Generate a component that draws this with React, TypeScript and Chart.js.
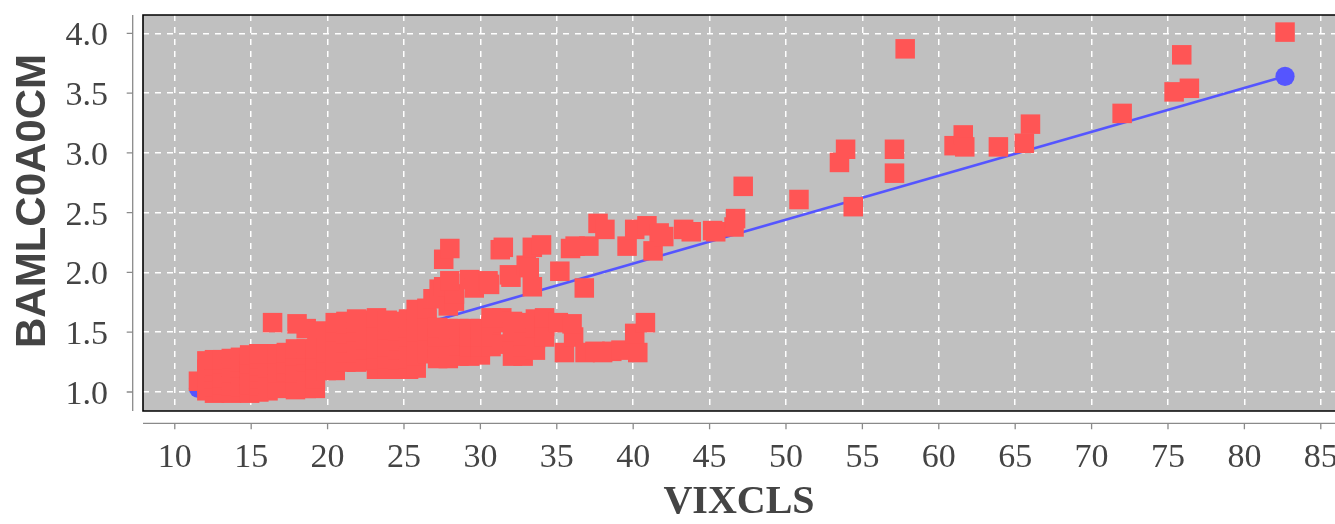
import React, { useEffect, useRef } from "react";
import { Chart, registerables } from "chart.js";

Chart.register(...registerables);

// VIXCLS (x) vs BAMLC0A0CM (y) observations
const scatterPoints: [number, number][] = [
  [11.55, 1.09],
  [12.1, 1.01], [12.1, 1.07], [12.1, 1.13], [12.1, 1.19], [12.1, 1.26],
  [12.6, 0.99], [12.6, 1.04], [12.6, 1.11], [12.6, 1.17], [12.6, 1.22], [12.6, 1.27],
  [13.1, 1.0], [13.1, 1.06], [13.1, 1.12], [13.1, 1.18], [13.1, 1.24], [13.1, 1.27],
  [13.7, 0.99], [13.7, 1.05], [13.7, 1.1], [13.7, 1.16], [13.7, 1.21], [13.7, 1.28],
  [14.3, 1.0], [14.3, 1.04], [14.3, 1.09], [14.3, 1.15], [14.3, 1.2], [14.3, 1.25], [14.3, 1.29],
  [14.9, 0.99], [14.9, 1.06], [14.9, 1.13], [14.9, 1.18], [14.9, 1.24], [14.9, 1.31],
  [15.5, 1.0], [15.5, 1.05], [15.5, 1.11], [15.5, 1.17], [15.5, 1.22], [15.5, 1.28], [15.5, 1.32],
  [16.1, 1.01], [16.1, 1.07], [16.1, 1.14], [16.1, 1.2], [16.1, 1.26], [16.1, 1.32],
  [16.7, 1.03], [16.7, 1.09], [16.7, 1.16], [16.7, 1.23], [16.7, 1.29], [16.7, 1.32],
  [16.4, 1.58],
  [17.3, 1.17], [17.3, 1.24], [17.3, 1.33],
  [17.9, 1.02], [17.9, 1.09], [17.9, 1.16], [17.9, 1.23], [17.9, 1.3], [17.9, 1.36],
  [18.6, 1.03], [18.6, 1.1], [18.6, 1.18], [18.6, 1.25], [18.6, 1.31], [18.6, 1.36],
  [18.0, 1.57], [18.6, 1.53], [19.3, 1.51],
  [19.2, 1.03], [19.2, 1.11], [19.2, 1.19], [19.2, 1.27], [19.2, 1.36],
  [19.9, 1.18], [19.9, 1.26], [19.9, 1.33], [19.9, 1.37],
  [20.5, 1.18], [20.5, 1.26], [20.5, 1.34], [20.5, 1.42], [20.5, 1.5], [20.5, 1.58],
  [21.2, 1.25], [21.2, 1.33], [21.2, 1.41], [21.2, 1.49], [21.2, 1.57], [21.2, 1.59],
  [21.9, 1.25], [21.9, 1.33], [21.9, 1.42], [21.9, 1.5], [21.9, 1.58], [21.9, 1.61],
  [22.5, 1.26], [22.5, 1.35], [22.5, 1.44], [22.5, 1.53], [22.5, 1.6],
  [23.2, 1.19], [23.2, 1.27], [23.2, 1.36], [23.2, 1.45], [23.2, 1.55], [23.2, 1.62],
  [23.9, 1.19], [23.9, 1.28], [23.9, 1.38], [23.9, 1.45], [23.9, 1.52], [23.9, 1.6],
  [24.6, 1.19], [24.6, 1.27], [24.6, 1.35], [24.6, 1.43], [24.6, 1.51], [24.6, 1.59],
  [25.3, 1.19], [25.3, 1.28], [25.3, 1.37], [25.3, 1.46], [25.3, 1.54], [25.3, 1.61],
  [25.8, 1.2], [25.8, 1.3], [25.8, 1.4], [25.8, 1.5], [25.8, 1.6], [25.8, 1.69],
  [26.5, 1.32], [26.5, 1.42], [26.5, 1.51], [26.5, 1.61], [26.5, 1.7],
  [27.2, 1.28], [27.2, 1.37], [27.2, 1.46], [27.2, 1.54],
  [27.9, 1.28], [27.9, 1.37], [27.9, 1.46], [27.9, 1.53],
  [28.6, 1.3], [28.6, 1.39], [28.6, 1.47], [28.6, 1.53],
  [29.3, 1.3], [29.3, 1.38], [29.3, 1.46], [29.3, 1.53],
  [30.0, 1.31], [30.0, 1.38], [30.0, 1.46], [30.0, 1.53],
  [30.7, 1.38], [30.7, 1.46], [30.7, 1.55], [30.7, 1.62],
  [31.4, 1.4], [31.4, 1.58], [31.4, 1.62],
  [32.1, 1.3], [32.1, 1.4], [32.1, 1.5], [32.1, 1.59],
  [32.8, 1.3], [32.8, 1.38], [32.8, 1.47], [32.8, 1.58],
  [33.6, 1.35], [33.6, 1.45], [33.6, 1.54], [33.6, 1.61],
  [34.2, 1.46], [34.2, 1.55], [34.2, 1.62],
  [35.1, 1.58], [35.5, 1.33], [36.1, 1.46], [36.0, 1.57],
  [36.85, 1.33], [37.5, 1.34], [38.0, 1.33], [38.6, 1.34], [39.2, 1.35], [40.3, 1.33],
  [40.1, 1.49], [40.8, 1.58],
  [26.9, 1.78], [27.3, 1.86], [27.9, 1.72], [28.3, 1.76], [27.6, 1.88], [28.3, 1.82],
  [27.6, 2.11], [28.0, 2.2],
  [28.0, 1.93], [29.3, 1.94], [29.6, 1.87], [30.5, 1.93], [30.6, 1.9],
  [31.3, 2.19], [31.5, 2.21], [31.9, 1.98], [32.0, 1.96], [33.0, 2.06], [33.2, 2.04], [33.4, 1.88],
  [33.4, 2.21], [34.0, 2.23], [35.2, 2.01], [35.9, 2.2], [36.2, 2.22], [37.1, 2.22], [36.8, 1.87],
  [37.7, 2.41], [38.15, 2.36],
  [39.6, 2.22], [40.1, 2.36], [40.9, 2.39], [41.7, 2.33], [41.3, 2.18], [42.0, 2.3],
  [43.3, 2.36], [43.8, 2.34], [45.2, 2.35], [45.4, 2.34], [46.6, 2.38], [46.7, 2.45], [47.2, 2.72],
  [50.85, 2.61], [53.5, 2.92], [53.9, 3.03], [54.4, 2.55], [57.1, 3.03], [57.1, 2.83],
  [57.8, 3.87], [61.0, 3.06], [61.6, 3.15], [61.7, 3.05], [63.9, 3.05], [65.6, 3.08],
  [66.0, 3.24], [72.0, 3.33], [75.4, 3.51], [76.4, 3.54], [75.9, 3.82], [82.66, 4.01],
];

// regression line end points
const fitLine: [number, number][] = [
  [11.55, 1.03],
  [82.66, 3.64],
];

const xTickValues = [10, 15, 20, 25, 30, 35, 40, 45, 50, 55, 60, 65, 70, 75, 80, 85];
const yTickValues = [1.0, 1.5, 2.0, 2.5, 3.0, 3.5, 4.0];
const xTitle = "VIXCLS";
const yTitle = "BAMLC0A0CM";

const X_MIN = 7.92;
const X_MAX = 85.93;
const Y_MIN = 0.841;
const Y_MAX = 4.153;

const framePlugin = {
  id: "frame",
  beforeDraw(chart: any) {
    const { ctx, chartArea: a } = chart;
    ctx.save();
    ctx.fillStyle = "#C0C0C0";
    ctx.fillRect(a.left, a.top, a.right - a.left, a.bottom - a.top);
    ctx.restore();
  },
  afterDraw(chart: any) {
    const { ctx, chartArea: a } = chart;
    const xs = chart.scales.x;
    const ys = chart.scales.y;
    ctx.save();
    // plot outline (right side runs off the picture)
    ctx.strokeStyle = "#000";
    ctx.lineWidth = 1.6;
    ctx.beginPath();
    ctx.moveTo(a.right, a.top);
    ctx.lineTo(a.left, a.top);
    ctx.lineTo(a.left, a.bottom);
    ctx.lineTo(a.right, a.bottom);
    ctx.stroke();
    // axis lines, offset from plot
    ctx.strokeStyle = "#8a8a8a";
    ctx.lineWidth = 1.3;
    const axY = a.bottom + 12.3;
    const axX = a.left - 10.3;
    ctx.beginPath();
    ctx.moveTo(a.left, axY);
    ctx.lineTo(a.right, axY);
    ctx.moveTo(axX, a.top);
    ctx.lineTo(axX, a.bottom);
    for (const v of xTickValues) {
      const px = xs.getPixelForValue(v);
      ctx.moveTo(px, axY);
      ctx.lineTo(px, axY + 6);
    }
    for (const v of yTickValues) {
      const py = ys.getPixelForValue(v);
      ctx.moveTo(axX, py);
      ctx.lineTo(axX - 6, py);
    }
    ctx.stroke();
    // titles
    ctx.fillStyle = "#444";
    ctx.textAlign = "center";
    ctx.textBaseline = "middle";
    ctx.font = "bold 40px 'Liberation Serif', serif";
    ctx.fillText(xTitle, (a.left + a.right) / 2, 503);
    ctx.translate(33, 201);
    ctx.rotate(-Math.PI / 2);
    ctx.font = "bold 42px 'Liberation Sans', sans-serif";
    ctx.fillText(yTitle, 0, 0);
    ctx.restore();
  },
};

export default function App() {
  const ref = useRef<HTMLCanvasElement | null>(null);

  useEffect(() => {
    if (!ref.current) return;
    const tickFont = { family: "'Liberation Serif', serif", size: 34 };
    const chart = new Chart(ref.current, {
      type: "scatter",
      data: {
        datasets: [
          {
            label: "observations",
            data: scatterPoints.map(([x, y]) => ({ x, y })),
            pointStyle: "rect",
            pointRadius: 13.8,
            pointBackgroundColor: "#FF5555",
            pointBorderWidth: 0,
            backgroundColor: "#FF5555",
            borderWidth: 0,
            order: 1,
          },
          {
            label: "fit",
            data: fitLine.map(([x, y]) => ({ x, y })),
            showLine: true,
            borderColor: "#5555FF",
            borderWidth: 2.6,
            pointStyle: "circle",
            pointRadius: 9.6,
            pointBackgroundColor: "#5555FF",
            pointBorderWidth: 0,
            backgroundColor: "#5555FF",
            order: 2,
          },
        ],
      },
      options: {
        responsive: false,
        animation: false,
        devicePixelRatio: 1,
        layout: { autoPadding: false, padding: { top: 15, right: 0, left: 0, bottom: 0 } },
        plugins: {
          legend: { display: false },
          tooltip: { enabled: false },
        },
        scales: {
          x: {
            type: "linear",
            min: X_MIN,
            max: X_MAX,
            bounds: "data",
            afterBuildTicks: (s: any) => {
              s.ticks = xTickValues.map((v) => ({ value: v }));
            },
            afterFit: (s: any) => {
              s.height = 113;
              s.paddingLeft = 0;
              s.paddingRight = 0;
              s.paddingTop = 0;
              s.paddingBottom = 0;
            },
            grid: {
              color: "#FFFFFF",
              lineWidth: 1.5,
              drawTicks: false,
            },
            border: { display: false, dash: [6, 6] },
            ticks: {
              font: tickFont,
              color: "#444",
              padding: 27,
              maxRotation: 0,
              autoSkip: false,
              callback: (v: any) => String(v),
            },
          },
          y: {
            type: "linear",
            min: Y_MIN,
            max: Y_MAX,
            bounds: "data",
            afterBuildTicks: (s: any) => {
              s.ticks = yTickValues.map((v) => ({ value: v }));
            },
            afterFit: (s: any) => {
              s.width = 143;
              s.paddingLeft = 0;
              s.paddingRight = 0;
              s.paddingTop = 0;
              s.paddingBottom = 0;
            },
            grid: {
              color: "#FFFFFF",
              lineWidth: 1.5,
              drawTicks: false,
            },
            border: { display: false, dash: [6, 6] },
            ticks: {
              font: tickFont,
              color: "#444",
              padding: 35,
              labelOffset: 3,
              autoSkip: false,
              callback: (v: any) => Number(v).toFixed(1),
            },
          },
        },
      },
      plugins: [framePlugin],
    });
    return () => chart.destroy();
  }, []);

  return (
    <div style={{ position: "fixed", left: 0, top: 0, width: 1335, height: 524, background: "#fff" }}>
      <canvas ref={ref} width={1335} height={524} style={{ display: "block" }} />
    </div>
  );
}
